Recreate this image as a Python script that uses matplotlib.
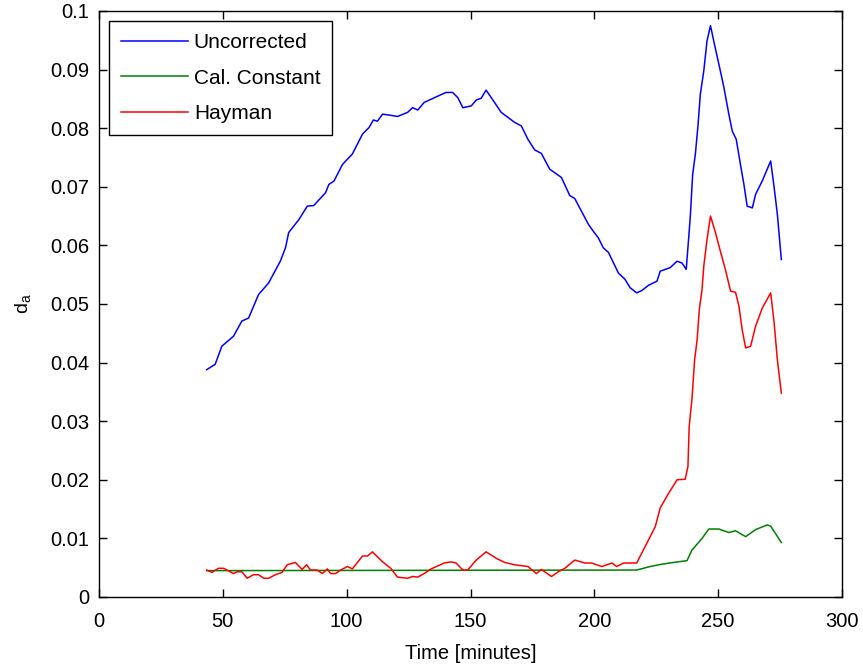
import matplotlib
matplotlib.use("Agg")
import matplotlib.pyplot as plt
from matplotlib.ticker import FixedLocator, FixedFormatter

plt.rcParams['font.family'] = ['Liberation Sans', 'DejaVu Sans']
plt.rcParams['mathtext.fontset'] = 'custom'
plt.rcParams['mathtext.rm'] = 'Liberation Sans'
plt.rcParams['mathtext.it'] = 'Liberation Sans'

# ---- data ----
unc_t = [43.5, 46.9, 49.6, 54.3, 57.7, 60.4, 64.4, 68.5, 73.2, 75.3, 76.6, 80.7, 84.1, 86.7,
         91.5, 92.8, 94.9, 98.3, 102.3, 106.4, 109.0, 110.8, 112.4, 114.5, 117.8, 120.5,
         124.6, 126.6, 128.7, 131.3, 135.4, 140.1, 142.8, 144.9, 146.9, 150.3, 152.3, 154.3,
         156.3, 159.7, 162.4, 167.8, 170.5, 173.2, 175.9, 178.6, 182.0, 186.7, 190.1, 192.1,
         197.6, 199.6, 201.6, 203.6, 205.7, 209.7, 212.4, 214.4, 217.1, 219.2, 221.9, 225.3,
         226.6, 230.6, 233.4, 235.4, 237.1, 238.1, 238.8, 239.7, 240.8, 241.9, 242.8, 244.2,
         245.5, 246.9, 248.2, 250.3, 252.3, 254.3, 255.7, 257.3, 259.0, 260.4, 261.7, 263.8,
         265.1, 267.8, 271.2, 272.6, 273.9, 275.5]
unc_d = [0.0388, 0.0397, 0.0428, 0.0445, 0.0471, 0.0476, 0.0516, 0.0536, 0.0573, 0.0596,
         0.0622, 0.0644, 0.0667, 0.0668, 0.0690, 0.0704, 0.0710, 0.0738, 0.0756, 0.0790,
         0.0801, 0.0814, 0.0812, 0.0824, 0.0822, 0.0820, 0.0827, 0.0835, 0.0831, 0.0844,
         0.0852, 0.0861, 0.0861, 0.0852, 0.0835, 0.0838, 0.0848, 0.0851, 0.0865, 0.0844,
         0.0827, 0.0810, 0.0804, 0.0781, 0.0763, 0.0757, 0.0730, 0.0716, 0.0685, 0.0680,
         0.0636, 0.0624, 0.0613, 0.0596, 0.0588, 0.0553, 0.0542, 0.0528, 0.0519, 0.0523,
         0.0532, 0.0539, 0.0556, 0.0562, 0.0573, 0.0570, 0.0559, 0.0613, 0.0653, 0.0721,
         0.0756, 0.0807, 0.0858, 0.0898, 0.0949, 0.0975, 0.0949, 0.0909, 0.0870, 0.0824,
         0.0795, 0.0781, 0.0738, 0.0704, 0.0667, 0.0664, 0.0687, 0.0710, 0.0744, 0.0699,
         0.0653, 0.0576]

cal_t = [43.5, 217.1, 222.5, 227.3, 232.0, 237.4, 239.4, 243.5, 246.2, 250.3, 254.3, 257.0,
         261.1, 265.1, 269.8, 271.2, 275.5]
cal_d = [0.0045, 0.0046, 0.0052, 0.0056, 0.0059, 0.0062, 0.0080, 0.0100, 0.0116, 0.0116,
         0.0110, 0.0113, 0.0103, 0.0115, 0.0123, 0.0121, 0.0093]

hay_t = [43.5, 45.6, 48.2, 50.3, 53.0, 54.3, 55.7, 57.7, 59.8, 62.4, 64.4, 66.5, 68.5, 71.2,
         73.9, 76.0, 79.3, 82.0, 83.8, 85.4, 88.1, 90.2, 92.2, 93.5, 95.5, 97.6, 100.3, 102.3,
         106.4, 108.4, 110.4, 114.5, 117.8, 120.5, 124.6, 126.6, 128.7, 131.3, 134.1, 139.4,
         142.2, 144.2, 146.9, 148.9, 152.3, 156.3, 160.4, 163.8, 167.8, 173.2, 176.6, 178.6,
         182.7, 185.4, 188.1, 192.1, 196.2, 198.9, 203.0, 207.1, 209.0, 211.8, 217.1, 220.5,
         224.6, 226.6, 230.0, 233.4, 236.7, 237.8, 238.3, 239.4, 240.5, 241.5, 242.4, 243.5,
         244.2, 245.5, 246.9, 248.9, 250.9, 252.9, 255.0, 257.0, 258.4, 259.7, 261.1, 263.1,
         265.1, 267.8, 271.2, 272.6, 273.9, 275.5]
hay_d = [0.0046, 0.0042, 0.0049, 0.0049, 0.0043, 0.0040, 0.0043, 0.0043, 0.0032, 0.0038,
         0.0038, 0.0032, 0.0032, 0.0038, 0.0042, 0.0055, 0.0059, 0.0047, 0.0055, 0.0046,
         0.0046, 0.0040, 0.0048, 0.0040, 0.0040, 0.0046, 0.0052, 0.0048, 0.0070, 0.0070,
         0.0077, 0.0060, 0.0049, 0.0034, 0.0032, 0.0035, 0.0034, 0.0040, 0.0048, 0.0058,
         0.0060, 0.0058, 0.0046, 0.0046, 0.0063, 0.0077, 0.0066, 0.0059, 0.0055, 0.0052,
         0.0040, 0.0047, 0.0035, 0.0043, 0.0049, 0.0063, 0.0058, 0.0058, 0.0052, 0.0058,
         0.0052, 0.0058, 0.0058, 0.0086, 0.0120, 0.0152, 0.0177, 0.0200, 0.0201, 0.0223,
         0.0291, 0.0337, 0.0405, 0.0439, 0.0491, 0.0525, 0.0565, 0.0610, 0.0650, 0.0622,
         0.0590, 0.0559, 0.0522, 0.0520, 0.0496, 0.0456, 0.0425, 0.0428, 0.0462, 0.0493,
         0.0519, 0.0468, 0.0405, 0.0348]

series_labels = ['Uncorrected', 'Cal. Constant', 'Hayman']
x_ticks = [0, 50, 100, 150, 200, 250, 300]
x_ticklabels = ['0', '50', '100', '150', '200', '250', '300']
y_ticks = [0, 0.01, 0.02, 0.03, 0.04, 0.05, 0.06, 0.07, 0.08, 0.09, 0.1]
y_ticklabels = ['0', '0.01', '0.02', '0.03', '0.04', '0.05', '0.06', '0.07', '0.08', '0.09', '0.1']

# ---- figure ----
fs = 14.5
fig = plt.figure(figsize=(8.63, 6.66), dpi=100)
ax = fig.add_axes([99 / 863, 1 - 597 / 666, (842 - 99) / 863, (597 - 11) / 666])

ax.plot(unc_t, unc_d, color=(0, 0, 1), lw=1.1, label=series_labels[0])
ax.plot(cal_t, cal_d, color=(0, 0.5, 0), lw=1.1, label=series_labels[1])
ax.plot(hay_t, hay_d, color=(1, 0, 0), lw=1.1, label=series_labels[2])

ax.set_xlim(0, 300)
ax.set_ylim(0, 0.1)
ax.xaxis.set_major_locator(FixedLocator(x_ticks))
ax.xaxis.set_major_formatter(FixedFormatter(x_ticklabels))
ax.yaxis.set_major_locator(FixedLocator(y_ticks))
ax.yaxis.set_major_formatter(FixedFormatter(y_ticklabels))
ax.tick_params(direction='in', length=6, width=1, top=True, right=True,
               labelsize=fs, colors='black')
ax.tick_params(axis='y', pad=7)
ax.tick_params(axis='x', pad=11)
for s in ax.spines.values():
    s.set_linewidth(1.0)
    s.set_color('black')

ax.set_xlabel('Time [minutes]', fontsize=fs, labelpad=9)
ax.set_ylabel(r'd$_\mathregular{a}$', fontsize=14, labelpad=12)

leg = ax.legend(loc='upper left', fontsize=15, frameon=True, fancybox=False,
                framealpha=1, edgecolor='black', handlelength=3.2, handletextpad=0.3,
                labelspacing=0.8, borderaxespad=0.5, borderpad=0.55)
leg.get_frame().set_linewidth(1.0)

fig.savefig('out.png', dpi=100)
